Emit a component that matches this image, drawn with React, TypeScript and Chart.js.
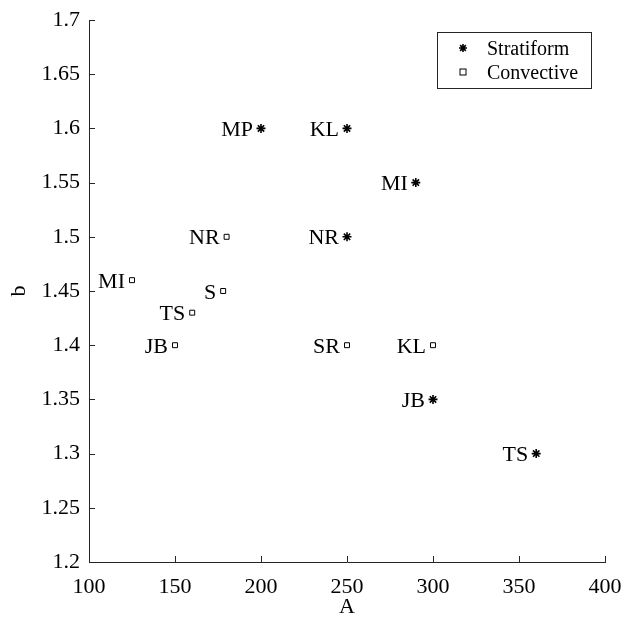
import React, { useEffect, useRef } from 'react';
import { Chart, registerables } from 'chart.js';

Chart.register(...registerables);

const stratLabels = ['MP', 'KL', 'MI', 'NR', 'JB', 'TS'];
const stratA = [200, 250, 290, 250, 300, 360];
const stratB = [1.6, 1.6, 1.55, 1.5, 1.35, 1.3];

const convLabels = ['NR', 'MI', 'S', 'TS', 'JB', 'SR', 'KL'];
const convA = [180, 125, 178, 160, 150, 250, 300];
const convB = [1.5, 1.46, 1.45, 1.43, 1.4, 1.4, 1.4];

const xTicks = [100, 150, 200, 250, 300, 350, 400];
const yTicks = [1.2, 1.25, 1.3, 1.35, 1.4, 1.45, 1.5, 1.55, 1.6, 1.65, 1.7];

const seriesNames = ['Stratiform', 'Convective'];

const FONT = 'Liberation Serif, serif';
const AXIS_COLOR = '#262626';

Chart.defaults.font.family = FONT;

function drawMarker(ctx: CanvasRenderingContext2D, kind: number, x: number, y: number) {
  if (kind === 0) {
    const r = 4;
    ctx.beginPath();
    for (let k = 0; k < 4; k++) {
      const ang = (k * Math.PI) / 4;
      ctx.moveTo(x + r * Math.cos(ang), y + r * Math.sin(ang));
      ctx.lineTo(x - r * Math.cos(ang), y - r * Math.sin(ang));
    }
    ctx.stroke();
  } else {
    ctx.strokeRect(x - 3, y - 3, 6, 6);
  }
}

const annotatePlugin = {
  id: 'annotate',
  afterDraw(chart: any) {
    const ctx = chart.ctx;
    const xs = chart.scales.x;
    const ys = chart.scales.y;
    const area = chart.chartArea;
    ctx.save();
    // inward ticks
    ctx.strokeStyle = AXIS_COLOR;
    ctx.lineWidth = 1;
    xTicks.forEach((v) => {
      const px = Math.round(xs.getPixelForValue(v)) + 0.5;
      ctx.beginPath();
      ctx.moveTo(px, area.bottom);
      ctx.lineTo(px, area.bottom - 6);
      ctx.stroke();
    });
    yTicks.forEach((v) => {
      const py = Math.round(ys.getPixelForValue(v)) + 0.5;
      ctx.beginPath();
      ctx.moveTo(area.left, py);
      ctx.lineTo(area.left + 6, py);
      ctx.stroke();
    });

    // point labels
    ctx.fillStyle = '#000';
    ctx.font = `22px ${FONT}`;
    ctx.textAlign = 'right';
    ctx.textBaseline = 'alphabetic';
    const drawLabels = (labels: string[], a: number[], b: number[], off: number) => {
      labels.forEach((lab, i) => {
        const px = xs.getPixelForValue(a[i]);
        const py = ys.getPixelForValue(b[i]);
        ctx.fillText(lab, px - off, py + 7.5);
      });
    };
    drawLabels(stratLabels, stratA, stratB, 8);
    drawLabels(convLabels, convA, convB, 7);

    // axis titles
    ctx.textAlign = 'center';
    ctx.font = `22px ${FONT}`;
    ctx.fillText('A', (area.left + area.right) / 2, 613);
    ctx.save();
    ctx.translate(25, (area.top + area.bottom) / 2);
    ctx.rotate(-Math.PI / 2);
    ctx.fillText('b', 0, 0);
    ctx.restore();

    // legend
    const lx = 437.5, ly = 32.5, lw = 154, lh = 56;
    ctx.fillStyle = '#fff';
    ctx.fillRect(lx, ly, lw, lh);
    ctx.strokeStyle = '#262626';
    ctx.lineWidth = 1;
    ctx.strokeRect(lx, ly, lw, lh);
    const rowsY = [48, 72];
    [0, 1].forEach((i) => {
      const ds = chart.data.datasets[i];
      ctx.save();
      ctx.strokeStyle = ds.borderColor;
      ctx.lineWidth = ds.borderWidth;
      drawMarker(ctx, i, 463, rowsY[i]);
      ctx.restore();
      ctx.fillStyle = '#000';
      ctx.font = `20px ${FONT}`;
      ctx.textAlign = 'left';
      ctx.fillText(seriesNames[i], 487, rowsY[i] + 7);
    });
    ctx.restore();
  },
};

export default function App() {
  const canvasRef = useRef<HTMLCanvasElement | null>(null);

  useEffect(() => {
    document.body.style.margin = '0';
    const canvas = canvasRef.current;
    if (!canvas) return;
    const chart = new Chart(canvas, {
      type: 'scatter',
      data: {
        datasets: [
          {
            label: seriesNames[0],
            data: stratA.map((a, i) => ({ x: a, y: stratB[i] })),
            pointStyle: 'star',
            pointRadius: 4.5,
            borderColor: '#000',
            backgroundColor: '#000',
            borderWidth: 1.6,
          },
          {
            label: seriesNames[1],
            data: convA.map((a, i) => ({ x: a, y: convB[i] })),
            pointStyle: 'rect',
            pointRadius: 3.5,
            borderColor: '#000',
            backgroundColor: 'rgba(0,0,0,0)',
            borderWidth: 1,
          },
        ],
      },
      options: {
        animation: false,
        responsive: true,
        maintainAspectRatio: false,
        layout: { padding: { left: 0, right: 20, top: 20, bottom: 0 } },
        plugins: {
          legend: { display: false },
          tooltip: { enabled: false },
        },
        scales: {
          x: {
            type: 'linear',
            min: 100,
            max: 400,
            afterFit: (s: any) => {
              s.height = 61;
              s.paddingLeft = 0;
              s.paddingRight = 0;
            },
            afterBuildTicks: (s: any) => {
              s.ticks = xTicks.map((v) => ({ value: v }));
            },
            grid: { display: false, drawTicks: false },
            border: { display: true, color: AXIS_COLOR, width: 1 },
            ticks: {
              padding: 12,
              color: '#000',
              font: { family: FONT, size: 22 },
              maxRotation: 0,
              callback: (v: any) => String(v),
            },
          },
          y: {
            type: 'linear',
            min: 1.2,
            max: 1.7,
            afterFit: (s: any) => {
              s.width = 89;
              s.paddingTop = 0;
              s.paddingBottom = 0;
            },
            afterBuildTicks: (s: any) => {
              s.ticks = yTicks.map((v) => ({ value: v }));
            },
            grid: { display: false, drawTicks: false },
            border: { display: true, color: AXIS_COLOR, width: 1 },
            ticks: {
              padding: 9,
              color: '#000',
              font: { family: FONT, size: 22 },
              callback: (v: any) => String(Number(Number(v).toFixed(2))),
            },
          },
        },
      },
      plugins: [annotatePlugin],
    });
    return () => chart.destroy();
  }, []);

  return (
    <div style={{ position: 'absolute', left: 0, top: 0, width: 625, height: 623, background: '#fff' }}>
      <canvas ref={canvasRef} />
    </div>
  );
}
